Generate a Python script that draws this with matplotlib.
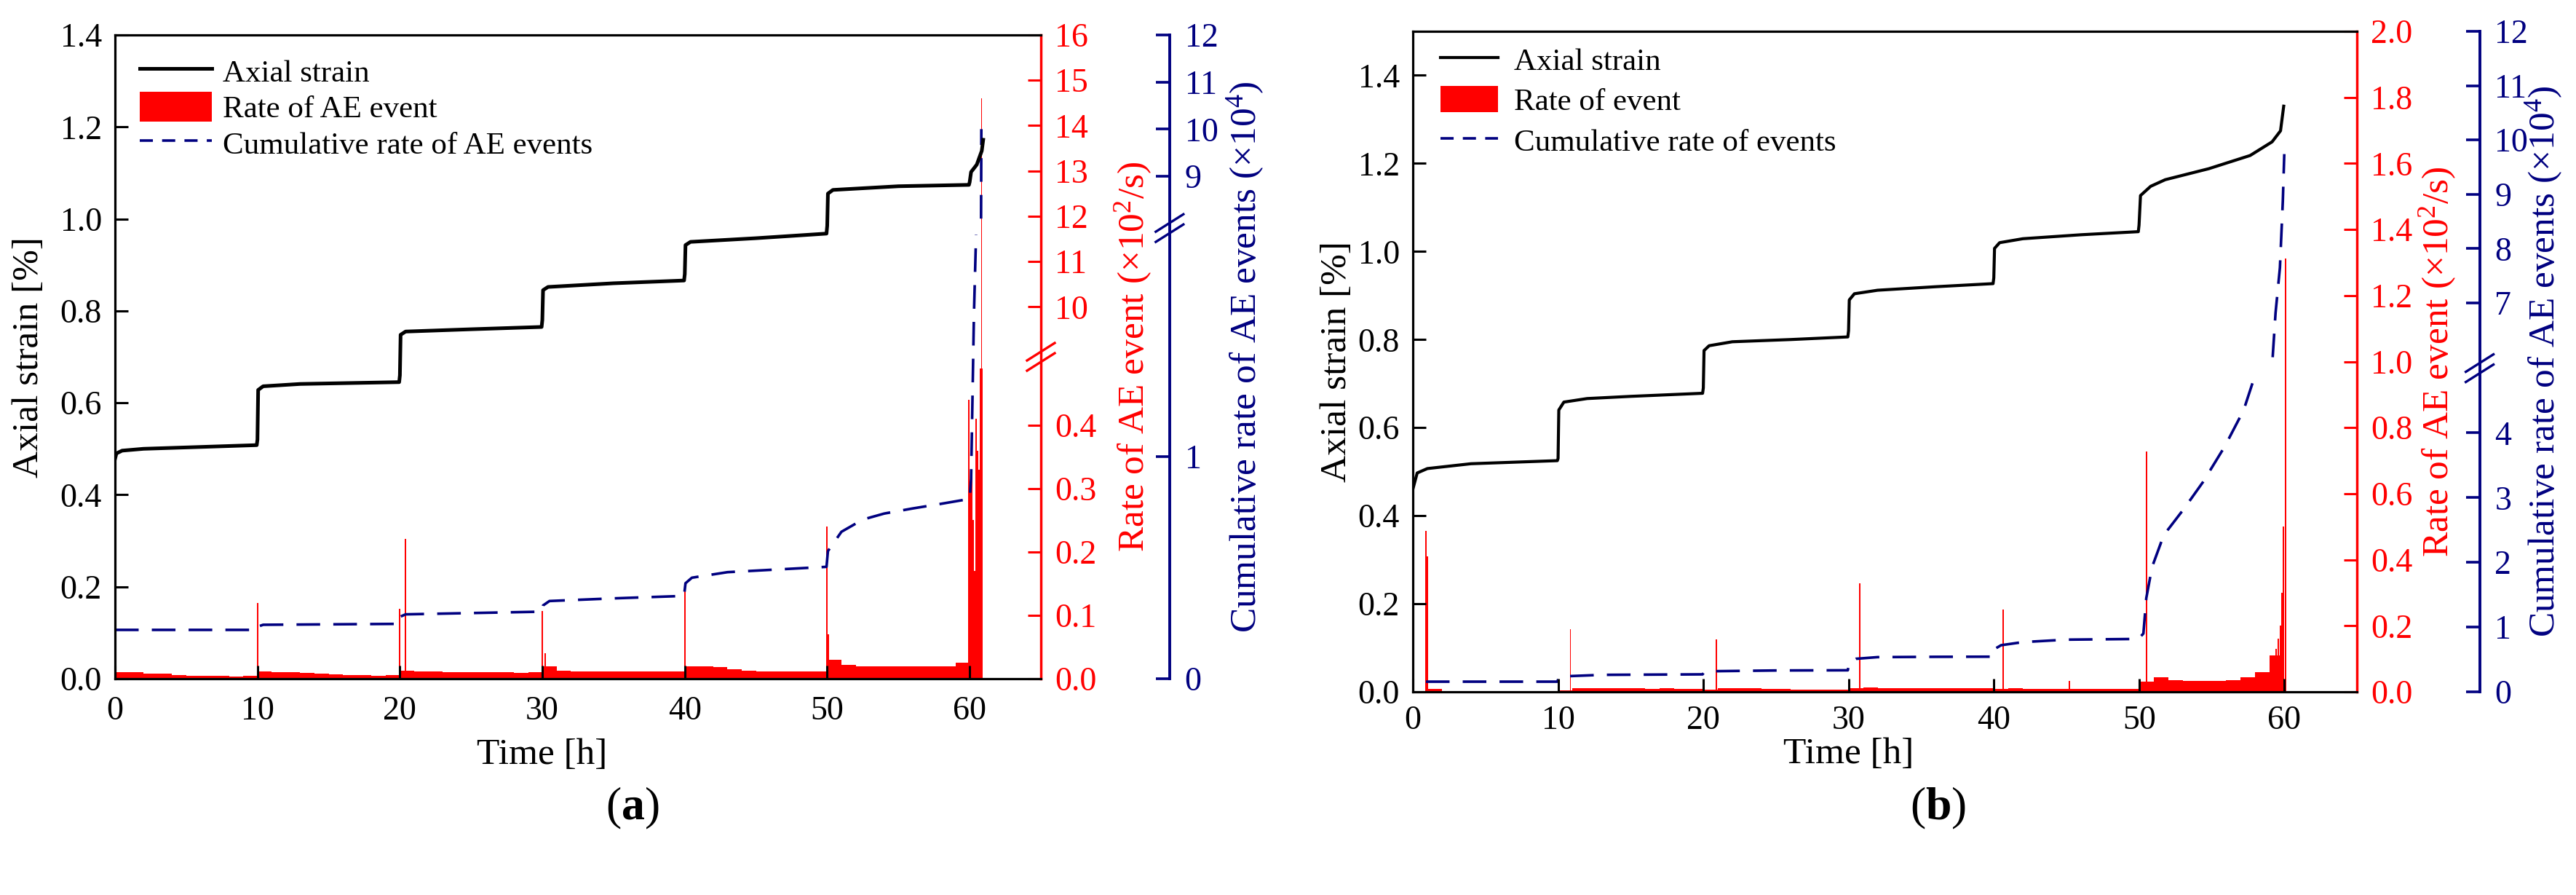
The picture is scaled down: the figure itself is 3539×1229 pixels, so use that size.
import numpy as np
import matplotlib
matplotlib.use("Agg")
import matplotlib.pyplot as plt
from matplotlib.lines import Line2D
from matplotlib.patches import Patch

plt.rcParams['font.family'] = ['Liberation Serif', 'DejaVu Serif']
plt.rcParams['mathtext.fontset'] = 'custom'
plt.rcParams['mathtext.rm'] = 'Liberation Serif'
plt.rcParams['mathtext.it'] = 'Liberation Serif:italic'
plt.rcParams['mathtext.bf'] = 'Liberation Serif:bold'

RED = '#ff0000'
NAVY = '#000080'

# ---------------- panel (a) data ----------------
strain_a_t = [0, 0.1, 0.5, 2, 5, 9.95, 10.0, 10.05, 10.4, 13, 19.95, 20.0, 20.05, 20.4, 25, 29.95,
              30.0, 30.05, 30.4, 35, 39.95, 40.0, 40.05, 40.4, 45, 49.95, 50.0, 50.05, 50.4, 55,
              59.95, 60.0, 60.1, 60.5, 60.85, 60.95]
strain_a = [0.478, 0.49, 0.496, 0.5, 0.503, 0.508, 0.52, 0.628, 0.636, 0.641, 0.645, 0.66, 0.748,
            0.755, 0.76, 0.765, 0.78, 0.845, 0.852, 0.86, 0.866, 0.88, 0.943, 0.95, 0.958, 0.968,
            0.985, 1.055, 1.063, 1.071, 1.074, 1.08, 1.102, 1.118, 1.148, 1.172]

# hourly background AE rate (x10^2/s), hours 0..59
base_a = [0.010, 0.010, 0.008, 0.008, 0.006, 0.005, 0.005, 0.005, 0.004, 0.005,
          0.011, 0.010, 0.010, 0.009, 0.008, 0.007, 0.006, 0.006, 0.005, 0.006,
          0.013, 0.011, 0.011, 0.010, 0.010, 0.010, 0.010, 0.010, 0.009, 0.010,
          0.020, 0.013, 0.012, 0.012, 0.011, 0.011, 0.011, 0.011, 0.011, 0.011,
          0.020, 0.020, 0.018, 0.015, 0.013, 0.012, 0.012, 0.012, 0.012, 0.012,
          0.030, 0.022, 0.020, 0.020, 0.020, 0.020, 0.020, 0.020, 0.020, 0.025]
spike_a_t = [0.03, 10.0, 20.0, 20.4, 30.0, 30.2, 40.0, 50.0, 50.1,
             59.95, 60.05, 60.15, 60.25, 60.35, 60.45, 60.55, 60.65, 60.75, 60.85]
spike_a = [0.49, 0.12, 0.11, 0.221, 0.107, 0.04, 0.151, 0.24, 0.07,
           0.44, 0.30, 0.32, 0.25, 0.17, 0.41, 0.36, 0.33, 0.49, 0.49]
peak_a_t = [60.82]
peak_a = [14.6]

cum_a_t = [0, 9.95, 10.05, 10.4, 19.95, 20.05, 20.4, 29.95, 30.05, 30.5, 35, 39.95, 40.05, 40.5, 43,
           49.95, 50.05, 51, 52.5, 54, 56, 58, 60.0, 60.1, 60.3, 60.45, np.nan, 60.8, 60.82]
cum_a = [0.22, 0.22, 0.235, 0.243, 0.247, 0.28, 0.29, 0.302, 0.33, 0.35, 0.362, 0.373, 0.43, 0.455,
         0.48, 0.504, 0.575, 0.662, 0.717, 0.744, 0.767, 0.788, 0.81, 0.9, 1.64, 2.0, np.nan, 8.1, 10.0]

# ---------------- panel (b) data ----------------
strain_b_t = [0, 0.3, 1, 4, 9.95, 10.0, 10.05, 10.4, 12, 15, 19.95, 20.0, 20.05, 20.4, 22, 26, 29.95,
              30.0, 30.05, 30.4, 32, 36, 39.95, 40.0, 40.05, 40.4, 42, 46, 49.95, 50.0, 50.1, 50.8,
              51.8, 54.8, 57.65, 59.16, 59.74, 59.96]
strain_b = [0.46, 0.497, 0.507, 0.518, 0.525, 0.53, 0.64, 0.658, 0.666, 0.671, 0.678, 0.69, 0.775,
            0.786, 0.795, 0.8, 0.806, 0.82, 0.89, 0.904, 0.912, 0.92, 0.927, 0.94, 1.007, 1.02,
            1.029, 1.038, 1.045, 1.06, 1.127, 1.148, 1.163, 1.188, 1.218, 1.249, 1.274, 1.33]

base_b = [0.000, 0.008, 0.002, 0.001, 0.000, 0.000, 0.000, 0.000, 0.000, 0.000,
          0.004, 0.012, 0.010, 0.010, 0.010, 0.010, 0.009, 0.010, 0.008, 0.009,
          0.006, 0.011, 0.010, 0.010, 0.009, 0.009, 0.007, 0.006, 0.006, 0.006,
          0.010, 0.014, 0.012, 0.012, 0.012, 0.011, 0.011, 0.011, 0.010, 0.010,
          0.008, 0.010, 0.008, 0.008, 0.008, 0.008, 0.008, 0.008, 0.008, 0.008,
          0.030, 0.045, 0.035, 0.033, 0.032, 0.033, 0.035, 0.045, 0.060, 0.110]
spike_b_t = [0.9, 1.0, 10.85, 20.9, 30.78, 40.64, 45.2, 50.54,
             59.45, 59.6, 59.75, 59.85, 59.95, 60.1]
spike_b = [0.487, 0.41, 0.19, 0.159, 0.329, 0.25, 0.033, 0.728,
           0.13, 0.16, 0.2, 0.3, 0.5, 1.311]

cum_b_t = [0.9, 9.95, 10.05, 10.5, 13, 19.95, 20.05, 20.5, 25, 29.95, 30.05, 30.5, 32, 36, 39.95,
           40.05, 40.5, 42, 45, 49.95, 50.3, 50.5, 50.9, 51.7, 53.1, 54.4, 55.9, 57.2, 57.9, np.nan,
           59.2, 59.4, 59.7, 59.9, 60.0]
cum_b = [0.157, 0.157, 0.22, 0.24, 0.262, 0.27, 0.3, 0.318, 0.33, 0.333, 0.46, 0.51, 0.536, 0.541,
         0.543, 0.66, 0.72, 0.768, 0.806, 0.817, 0.9, 1.45, 1.93, 2.42, 2.83, 3.24, 3.79, 4.35, 4.83,
         np.nan, 6.0, 6.82, 7.65, 8.88, 9.74]

x_ticks = [0, 10, 20, 30, 40, 50, 60]
left_ticks = [0.0, 0.2, 0.4, 0.6, 0.8, 1.0, 1.2, 1.4]
red_ticks_a = [0.0, 0.1, 0.2, 0.3, 0.4, 10, 11, 12, 13, 14, 15, 16]
red_labels_a = ['0.0', '0.1', '0.2', '0.3', '0.4', '10', '11', '12', '13', '14', '15', '16']
blue_ticks_a = [0, 1, 9, 10, 11, 12]
red_ticks_b = [0.0, 0.2, 0.4, 0.6, 0.8, 1.0, 1.2, 1.4, 1.6, 1.8, 2.0]
blue_ticks_b = [0, 1, 2, 3, 4, 7, 8, 9, 10, 11, 12]

TICK_FS = 33
LABEL_FS = 37


def broken_scale(xp, fp):
    """piecewise-linear axis mapping used to fake a broken y axis"""
    xp = np.asarray(xp, float)
    fp = np.asarray(fp, float)

    def mk(a, b):
        def f(v):
            v = np.asarray(v, float)
            out = np.interp(v, a, b)
            out = np.where(v < a[0], b[0] + (v - a[0]) * (b[1] - b[0]) / (a[1] - a[0]), out)
            out = np.where(v > a[-1], b[-1] + (v - a[-1]) * (b[-1] - b[-2]) / (a[-1] - a[-2]), out)
            return out
        return f
    return mk(xp, fp), mk(fp, xp)


def add_break(fig, ax, xa, ya, color):
    pos = ax.get_position()
    wpx = pos.width * fig.get_figwidth() * fig.dpi
    hpx = pos.height * fig.get_figheight() * fig.dpi
    hw, hh, gap = 19, 12, 7
    for off in (-gap, gap):
        ax.plot([xa - hw / wpx, xa + hw / wpx], [ya + (off - hh) / hpx, ya + (off + hh) / hpx],
                transform=ax.transAxes, color=color, lw=2.4, clip_on=False, zorder=10)


def make_panel(fig, rect, d):
    ax = fig.add_axes(rect)
    ax_r = ax.twinx()
    ax_b = ax.twinx()
    ax.set_zorder(3)
    ax.patch.set_visible(False)
    ax_r.set_zorder(1)
    ax_b.set_zorder(2)

    # strain
    ax.plot(d['st'], d['s'], color='black', lw=d['slw'], solid_joinstyle='round')
    ax.set_xlim(0, 65)
    ax.set_ylim(0, d['ymax'])
    ax.set_xticks(x_ticks)
    ax.set_yticks(left_ticks)
    ax.set_yticklabels([f'{v:.1f}' for v in left_ticks])
    ax.tick_params(axis='both', direction='in', length=13, width=2.2, labelsize=TICK_FS)
    ax.tick_params(axis='y', pad=13)
    ax.tick_params(axis='x', pad=d['xpad'])
    for s in ['left', 'top', 'bottom']:
        ax.spines[s].set_linewidth(2.3)
    ax.spines['right'].set_visible(False)

    # AE rate
    fr, ir = broken_scale(*d['rscale'])
    ax_r.set_yscale('function', functions=(fr, ir))
    ax_r.bar(np.arange(len(d['base'])), d['base'], width=1.0, align='edge', color=RED, lw=0)
    ax_r.bar(d['spt'], d['sp'], width=0.1, color=RED, lw=0)
    if d['pkt']:
        ax_r.bar(d['pkt'], d['pk'], width=0.05, color=RED, lw=0)
    ax_r.set_ylim(d['rlim'])
    ax_r.set_yticks(d['rticks'])
    ax_r.set_yticklabels(d['rlabels'])
    ax_r.tick_params(axis='y', direction='in', length=13, width=2.2, labelsize=TICK_FS,
                     colors=RED, pad=14)
    for s in ['left', 'top', 'bottom']:
        ax_r.spines[s].set_visible(False)
    ax_r.spines['right'].set_color(RED)
    ax_r.spines['right'].set_linewidth(2.5)

    # cumulative
    fb, ib = broken_scale(*d['bscale'])
    ax_b.set_yscale('function', functions=(fb, ib))
    ax_b.plot(d['ct'], d['c'], color=NAVY, lw=2.6, dashes=(9, 5))
    ax_b.set_ylim(0, 12)
    ax_b.set_yticks(d['bticks'])
    ax_b.set_yticklabels([str(v) for v in d['bticks']])
    ax_b.spines['right'].set_position(('axes', d['boff']))
    for s in ['left', 'top', 'bottom']:
        ax_b.spines[s].set_visible(False)
    ax_b.spines['right'].set_color(NAVY)
    ax_b.spines['right'].set_linewidth(2.8)
    ax_b.tick_params(axis='y', direction='in', length=14, width=2.6, labelsize=TICK_FS,
                     colors=NAVY, pad=15)

    # labels
    ax.text(d['ylx'], 0.5, 'Axial strain [%]', transform=ax.transAxes, rotation=90,
            ha='center', va='center', fontsize=LABEL_FS)
    ax.text(d['rlx'], 0.5, r'Rate of AE event (×10$^2$/s)', transform=ax.transAxes,
            rotation=90, ha='center', va='center', fontsize=LABEL_FS, color=RED)
    ax.text(d['blx'], 0.5, r'Cumulative rate of AE events (×10$^4$)', transform=ax.transAxes,
            rotation=90, ha='center', va='center', fontsize=LABEL_FS, color=NAVY)
    ax.text(30 / 65, d['xly'], 'Time [h]', transform=ax.transAxes, ha='center', va='center',
            fontsize=LABEL_FS)

    # breaks
    for yb in d['rbreaks']:
        add_break(fig, ax_r, 1.0, yb, RED)
    for yb in d['bbreaks']:
        add_break(fig, ax_b, d['boff'], yb, NAVY)

    handles = [Line2D([], [], color='black', lw=d['slw']),
               Patch(color=RED, lw=0),
               Line2D([], [], color=NAVY, lw=2.6, dashes=(5, 3.5))]
    ax.legend(handles, d['leg'], loc='upper left', bbox_to_anchor=d['legpos'], frameon=False,
              fontsize=31, handlelength=d['hl'], handleheight=d['hh'], labelspacing=d['ls'],
              handletextpad=d['htp'], borderaxespad=0, borderpad=0)
    return ax


fig = plt.figure(figsize=(35.39, 12.29), dpi=100)

panel_a = dict(st=strain_a_t, s=strain_a, slw=3.6, ymax=1.4, xpad=17,
               rscale=([0, 0.508, 8.9, 16], [0, 0.5, 0.5001, 1.0]), base=base_a,
               spt=spike_a_t, sp=spike_a, pkt=peak_a_t, pk=peak_a, rlim=(0, 16),
               rticks=red_ticks_a, rlabels=red_labels_a,
               ct=cum_a_t, c=cum_a,
               bscale=([0, 2.03, 7.9, 12], [0, 0.7, 0.7001, 1.0]), bticks=blue_ticks_a,
               boff=1.139, ylx=-0.093, rlx=1.100, blx=1.221, xly=-0.118,
               rbreaks=[0.5], bbreaks=[0.7],
               leg=['Axial strain', 'Rate of AE event', 'Cumulative rate of AE events'],
               legpos=(0.027, 0.968), hl=2.3, hh=1.1, ls=0.12, htp=0.35)

panel_b = dict(st=strain_b_t, s=strain_b, slw=3.0, ymax=1.5, xpad=13,
               rscale=([0, 2.0], [0, 1.0]), base=base_b,
               spt=spike_b_t, sp=spike_b, pkt=[], pk=[], rlim=(0, 2.0),
               rticks=red_ticks_b, rlabels=[f'{v:.1f}' for v in red_ticks_b],
               ct=cum_b_t, c=cum_b,
               bscale=([0, 5.0, 5.8, 12], [0, 0.49, 0.4901, 1.0]), bticks=blue_ticks_b,
               boff=1.130, ylx=-0.080, rlx=1.086, blx=1.198, xly=-0.095,
               rbreaks=[], bbreaks=[0.49],
               leg=['Axial strain', 'Rate of event', 'Cumulative rate of events'],
               legpos=(0.029, 0.978), hl=1.85, hh=0.9, ls=0.32, htp=0.5)

make_panel(fig, [158 / 3539, 297 / 1229, 1272 / 3539, 884 / 1229], panel_a)
make_panel(fig, [1941 / 3539, 279 / 1229, 1297 / 3539, 907 / 1229], panel_b)

fig.text(869 / 3539, 0.097, r'($\mathbf{a}$)', ha='center', va='center', fontsize=46)
fig.text(2663 / 3539, 0.097, r'($\mathbf{b}$)', ha='center', va='center', fontsize=46)

fig.savefig('out.png', dpi=100)
